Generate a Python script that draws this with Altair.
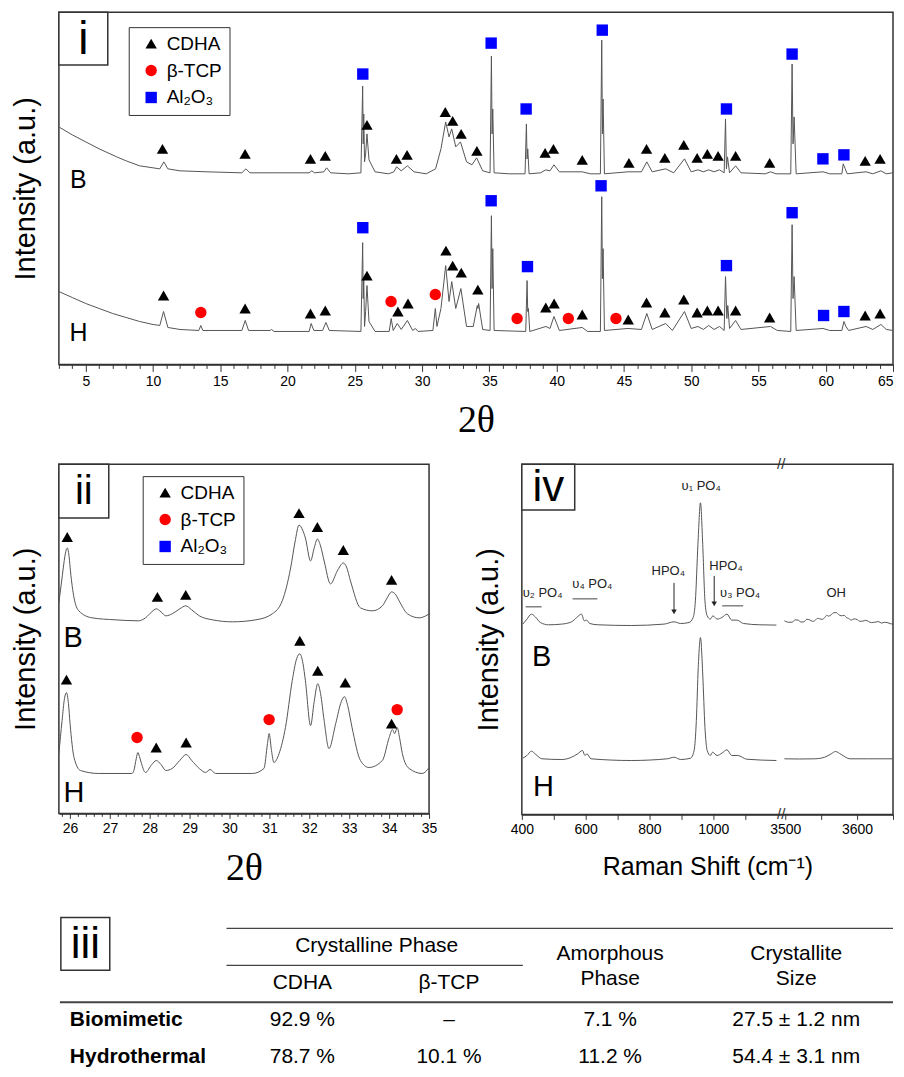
import altair as alt
import pandas as pd

FONT = "Arial"
SERIF = "Liberation Serif"
LINE_COLOR = "#555555"
FRAME = "#333333"

PHASES = ["CDHA", "β-TCP", "Al₂O₃"]
PHASE_SHAPES = ["triangle-up", "circle", "square"]
PHASE_COLORS = ["#000000", "#ff0000", "#0000ff"]

# ---------------- Panel i : XRD 3-65 deg (2theta, intensity above own baseline) ----------------
xrd_B = [(3.0, 47), (4.0, 39), (5.0, 32), (6.0, 25), (7.3, 17), (8.0, 13), (9.0, 8), (10.0, 6), (10.5, 5),
         (10.8, 12), (11.1, 5), (12.0, 3), (14.0, 2), (16.6, 1), (16.9, 5), (17.2, 1), (19.0, 1), (21.6, 1),
         (21.8, 3), (22.0, 1), (22.7, 2), (22.9, 6), (23.2, 1), (24.5, 0), (25.45, 1), (25.58, 88), (25.62, 30),
         (25.66, 60), (25.72, 12), (25.8, 20), (25.9, 40), (26.05, 14), (26.5, 2), (27.5, 0), (27.9, 2),
         (28.1, 7), (28.45, 3), (28.9, 8), (29.4, 2), (30.3, 0), (31.0, 5), (31.4, 25), (31.75, 52), (32.0, 37),
         (32.2, 45), (32.5, 27), (32.85, 32), (33.3, 12), (33.7, 9), (34.05, 16), (34.5, 3), (35.05, 1),
         (35.15, 118), (35.2, 40), (35.25, 65), (35.35, 1), (36.5, 0), (37.65, 0), (37.75, 50), (37.8, 15),
         (37.85, 25), (37.95, 0), (38.8, 1), (39.2, 4), (39.5, 3), (39.8, 9), (40.2, 2), (41.9, 2), (42.5, 0),
         (43.25, 0), (43.35, 134), (43.4, 40), (43.45, 75), (43.55, 0), (45.3, 2), (46.3, 2), (46.7, 12),
         (47.1, 2), (48.1, 5), (48.7, 1), (49.5, 15), (50.0, 2), (50.5, 4), (50.9, 2), (51.3, 4), (51.7, 2),
         (52.1, 4), (52.45, 1), (52.55, 55), (52.62, 5), (52.7, 17), (52.85, 1), (53.3, 8), (53.7, 1),
         (55.5, 0), (55.9, 2), (56.3, 0), (57.4, 0), (57.5, 110), (57.57, 30), (57.65, 57), (57.8, 0),
         (59.8, 2), (60.3, 0), (61.2, 0), (61.3, 10), (61.45, 5), (61.6, 0), (63.0, 2), (63.5, 0), (64.1, 3),
         (64.5, 0), (65.0, 1)]
xrd_H = [(3.0, 40), (4.0, 34), (5.0, 28), (6.0, 23), (7.0, 18), (8.0, 14), (9.0, 10), (10.0, 7), (10.5, 6),
         (10.78, 20), (11.1, 4), (12.0, 2), (13.4, 1), (13.55, 6), (13.7, 1), (16.6, 1), (16.85, 11), (17.1, 1),
         (18.7, 1), (18.8, 2), (19.0, 0), (21.6, 0), (21.75, 8), (21.95, 1), (22.6, 1), (22.85, 9), (23.1, 1),
         (25.45, 0), (25.58, 89), (25.62, 33), (25.66, 53), (25.72, 5), (25.8, 20), (25.9, 46), (26.05, 10),
         (26.5, 0), (27.55, 0), (27.7, 13), (27.85, 1), (28.15, 8), (28.45, 2), (28.9, 11), (29.3, 1),
         (29.5, 3), (29.7, 0), (30.8, 1), (30.98, 23), (31.1, 5), (31.4, 23), (31.75, 66), (32.0, 30),
         (32.2, 50), (32.5, 23), (32.88, 43), (33.3, 5), (33.8, 5), (34.1, 26), (34.15, 23), (34.2, 28),
         (34.5, 2), (35.05, 1), (35.15, 116), (35.2, 43), (35.25, 83), (35.35, 1), (37.7, 0), (37.8, 51),
         (37.85, 20), (37.9, 23), (38.0, 0), (39.2, 5), (39.5, 3), (39.8, 15), (40.2, 1), (41.9, 4), (42.3, 0),
         (43.25, 0), (43.35, 135), (43.4, 53), (43.45, 83), (43.55, 1), (45.3, 3), (46.3, 2), (46.7, 18),
         (47.1, 2), (48.1, 8), (48.6, 1), (49.5, 20), (50.0, 3), (50.5, 5), (50.9, 2), (51.3, 6), (51.7, 2),
         (52.1, 5), (52.45, 1), (52.55, 55), (52.65, 13), (52.72, 26), (52.85, 3), (53.3, 11), (53.7, 2),
         (55.9, 5), (56.4, 1), (57.4, 0), (57.5, 107), (57.57, 33), (57.65, 55), (57.8, 1), (59.8, 3),
         (60.3, 1), (61.2, 1), (61.35, 10), (61.5, 5), (61.7, 1), (63.0, 5), (63.5, 2), (64.1, 7), (64.5, 2),
         (65.0, 1)]
I_OFFSET = {"B": 191, "H": 33}

i_B_cdha = [(10.7, 25), (16.84, 20), (21.7, 15), (22.8, 18), (25.9, 49), (28.09, 15), (28.88, 19), (31.72, 62),
            (32.27, 53), (32.9, 40), (34.07, 23), (39.14, 21), (39.76, 25), (41.9, 14), (45.37, 11), (46.68, 25),
            (48.04, 16), (49.45, 29), (50.44, 16), (51.2, 20), (52.0, 18), (53.3, 18), (55.83, 11), (62.93, 13),
            (64.04, 15)]
i_B_al2o3 = [(25.59, 100), (35.13, 131), (37.73, 65), (43.39, 144), (52.62, 65), (57.5, 120), (59.79, 15),
             (61.35, 19)]
i_H_cdha = [(10.78, 36), (16.84, 23), (21.7, 18), (22.8, 21), (25.9, 56), (28.2, 20), (28.95, 28), (31.77, 81),
            (32.27, 66), (32.91, 59), (34.14, 42), (39.19, 24), (39.81, 28), (41.9, 17), (45.32, 12), (46.68, 29),
            (48.04, 19), (49.45, 32), (50.44, 19), (51.2, 21), (52.0, 21), (53.3, 21), (55.83, 14), (62.93, 16),
            (64.04, 18)]
i_H_tcp = [(13.55, 19), (27.69, 30), (30.98, 37), (37.06, 13), (40.87, 13), (44.41, 13)]
i_H_al2o3 = [(25.59, 104), (35.13, 131), (37.83, 65), (43.3, 146), (52.62, 66), (57.5, 119), (59.84, 16),
             (61.35, 20)]
i_labeled_ticks = [5, 10, 15, 20, 25, 30, 35, 40, 45, 50, 55, 60, 65]

# ---------------- Panel ii : XRD zoom 25.7-35 deg ----------------
zoom_B = [(25.72, 19), (25.78, 38), (25.83, 54), (25.88, 68), (25.93, 74), (25.98, 64), (26.01, 51), (26.1, 24),
          (26.22, 11), (26.55, 4), (27.13, 2), (27.72, 1), (27.89, 4), (28.05, 10), (28.16, 13), (28.28, 10),
          (28.4, 6), (28.56, 8), (28.75, 13), (28.9, 16), (29.05, 12), (29.24, 6), (29.57, 2), (30.07, 0),
          (30.66, 2), (31.07, 8), (31.32, 21), (31.53, 54), (31.64, 80), (31.74, 97), (31.83, 92), (31.9, 84),
          (32.03, 61), (32.12, 74), (32.2, 83), (32.28, 76), (32.37, 61), (32.53, 38), (32.7, 51), (32.85, 59),
          (32.93, 55), (33.03, 41), (33.28, 14), (33.58, 11), (33.83, 16), (33.95, 24), (34.06, 30), (34.15, 28),
          (34.25, 21), (34.46, 8), (34.75, 4), (34.92, 6), (35.0, 8)]
zoom_H = [(25.72, 20), (25.8, 53), (25.86, 75), (25.91, 81), (25.96, 70), (26.0, 50), (26.1, 16), (26.26, 3),
          (26.72, 0), (27.55, 0), (27.6, 3), (27.66, 15), (27.7, 21), (27.74, 17), (27.79, 10), (27.89, 1),
          (28.05, 9), (28.16, 13), (28.28, 9), (28.4, 3), (28.56, 5), (28.75, 13), (28.91, 19), (29.05, 13),
          (29.24, 5), (29.4, 1), (29.51, 4), (29.65, 0), (30.57, 0), (30.86, 5), (30.95, 30), (30.99, 40),
          (31.05, 23), (31.11, 11), (31.24, 20), (31.4, 46), (31.57, 93), (31.68, 115), (31.76, 120),
          (31.84, 110), (31.9, 93), (32.03, 48), (32.12, 72), (32.21, 90), (32.28, 80), (32.37, 53),
          (32.49, 25), (32.66, 50), (32.8, 72), (32.88, 77), (32.96, 68), (33.07, 46), (33.28, 13), (33.49, 6),
          (33.83, 13), (34.0, 36), (34.08, 44), (34.14, 40), (34.2, 46), (34.26, 36), (34.33, 20), (34.5, 5),
          (34.83, 0), (35.0, 6)]
II_OFFSET = {"B": 192, "H": 40}

ii_B_cdha = [(25.93, 85), (28.19, 25), (28.9, 27), (31.74, 109), (32.2, 95), (32.85, 72), (34.06, 42)]
ii_H_cdha = [(25.91, 94), (28.16, 26), (28.91, 31), (31.76, 133), (32.21, 103), (32.9, 91), (34.06, 50)]
ii_H_tcp = [(27.68, 36), (30.99, 54), (34.2, 64)]
ii_labeled_ticks = [26, 27, 28, 29, 30, 31, 32, 33, 34, 35]

# ---------------- Panel iv : Raman (shift cm-1, intensity above own baseline) ----------------
raman_B_low = [(403, 0.7), (416, 5.7), (430, 10.7), (442, 8), (458, 2.3), (484, 0), (525, 0.7), (556, 3),
               (572, 7.3), (587, 10.7), (596, 4), (603, 4.7), (613, 1.3), (639, 0), (743, -0.7), (846, 0.7),
               (877, 3), (898, 1.3), (924, 2.3), (937, 7.3), (944, 24), (952, 80.7), (960, 122.3), (967, 80.7),
               (974, 24), (981, 9), (991, 5.7), (999, 9), (1012, 5.7), (1027, 7.3), (1043, 10.7), (1058, 4.7),
               (1074, 4.7), (1095, 1.3), (1146, 0), (1198, -0.3)]
raman_B_high = [(3499, 4), (3505, 2.5), (3510, 2.7), (3514, 5), (3518, 4.7), (3522, 2.8), (3526, 3), (3530, 5.5),
                (3534, 5), (3538, 3.5), (3541, 4), (3545, 6.5), (3548, 6), (3552, 5.5), (3555, 7.3), (3558, 9.5),
                (3560, 8.7), (3564, 10), (3567, 12), (3571, 12.3), (3574, 10.5), (3578, 9), (3582, 9.5),
                (3585, 7.3), (3588, 6.5), (3592, 4.7), (3596, 6), (3600, 5.3), (3604, 3.5), (3608, 3.7),
                (3612, 4.5), (3616, 3.3), (3620, 2.2), (3625, 2.7), (3630, 3.2), (3634, 1.7), (3638, 2.5),
                (3643, 2), (3647, 1), (3650, 0.7)]
raman_H_low = [(403, 1.3), (416, 4), (430, 8.3), (444, 5), (463, 0.7), (525, 0), (556, 2.3), (575, 5.7), (590, 9),
               (598, 4), (604, 5.7), (617, 0.7), (743, -1), (856, 0.7), (877, 2.3), (898, 0), (929, 1.3),
               (940, 9), (947, 39), (953, 92.3), (960, 122.3), (967, 85.7), (974, 32.3), (981, 9), (991, 4),
               (998, 7.3), (1012, 4), (1027, 6.3), (1043, 9.7), (1058, 4), (1077, 4), (1105, 0.3), (1198, -1)]
raman_H_high = [(3499, 0.7), (3520, 0.5), (3541, 0.7), (3555, 2.3), (3564, 5.7), (3570, 8), (3578, 5),
                (3590, 0.7), (3616, 0.7), (3650, 0.7)]
IV_OFFSET = {"B": 190, "H": 55}
raman_labeled_ticks = [400, 600, 800, 1000, 3500, 3600]
raman_minor_ticks = [500, 700, 900, 1100, 3550, 3650]
raman_break_at = 1213

raman_texts = ["υ₂ PO₄", "υ₄ PO₄", "HPO₄", "υ₁ PO₄", "HPO₄", "υ₃ PO₄", "OH"]
raman_text_v = [465, 621, 859, 962, 1040, 1084, 3571]
raman_text_y = [222, 231, 244, 329, 249, 222, 222]
raman_bar_v1 = [412, 559, 1028]
raman_bar_v2 = [462, 637, 1094]
raman_bar_y = [208, 216, 209]
raman_arrow_v = [877, 1003]
raman_arrow_from = [232, 239]
raman_arrow_to = [203, 211]

# ---------------- Panel iii : table ----------------
table_samples = ["Biomimetic", "Hydrothermal"]
table_cdha = ["92.9 %", "78.7 %"]
table_tcp = ["–", "10.1 %"]
table_amorphous = ["7.1 %", "11.2 %"]
table_size = ["27.5 ± 1.2 nm", "54.4 ± 3.1 nm"]


# ---------------- helpers ----------------
def curve_frame(pairs, sample, offset, seg="a"):
    return pd.DataFrame({"x": [p[0] for p in pairs], "y": [p[1] + offset for p in pairs],
                         "sample": sample, "seg": seg})


def marker_frame(groups):
    rows = []
    for pairs, phase, offset in groups:
        for x, h in pairs:
            rows.append({"x": x, "y": h + offset, "phase": phase})
    return pd.DataFrame(rows)


def phase_legend(lx, ly):
    return alt.Legend(title=None, orient="none", legendX=lx, legendY=ly, direction="vertical",
                      strokeColor=FRAME, fillColor="white", padding=7, labelFont=FONT, labelFontSize=19,
                      labelColor="black", symbolSize=130, symbolOffset=6, labelOffset=6, rowPadding=7,
                      symbolStrokeWidth=0)


def marker_layer(df, xenc, yenc, legend):
    return alt.Chart(df).mark_point(filled=True, opacity=1, size=130).encode(
        x=xenc, y=yenc,
        shape=alt.Shape("phase:N", scale=alt.Scale(domain=PHASES, range=PHASE_SHAPES), legend=legend),
        color=alt.Color("phase:N", scale=alt.Scale(domain=PHASES, range=PHASE_COLORS), legend=legend),
    )


def box_label(text, w, h, size, x0=0, y0=0):
    rect = alt.Chart(alt.Data(values=[{}])).mark_rect(fill="white", stroke=FRAME, strokeWidth=1.5).encode(
        x=alt.value(x0), x2=alt.value(x0 + w), y=alt.value(y0), y2=alt.value(y0 + h))
    txt = alt.Chart(alt.Data(values=[{}])).mark_text(text=text, font=FONT, fontSize=size, color="black",
                                                    align="center", baseline="middle").encode(
        x=alt.value(x0 + w / 2), y=alt.value(y0 + h / 2 + 1))
    return alt.layer(rect, txt)


def y_enc(top):
    return alt.Y("y:Q", scale=alt.Scale(domain=[0, top], nice=False, zero=False),
                 axis=alt.Axis(title="Intensity (a.u.)", titleFont=FONT, titleFontSize=29,
                               titleFontWeight="normal", titleColor="black", titlePadding=18,
                               labels=False, ticks=False, domain=False, grid=False))


def in_list_expr(values):
    return "indexof([" + ",".join(str(v) for v in values) + "], datum.value) >= 0"


# ---------------- Panel i ----------------
i_test = in_list_expr(i_labeled_ticks)
x_i = alt.X("x:Q", scale=alt.Scale(domain=[3, 65], nice=False, zero=False),
            axis=alt.Axis(title="2θ", titleFont=SERIF, titleFontSize=38, titleFontWeight="normal",
                          titleColor="black", titlePadding=13, values=list(range(3, 66)),
                          labelExpr=f"{i_test} ? datum.label : ''",
                          tickSize={"condition": {"test": i_test, "value": 7}, "value": 4},
                          labelFontSize=14, labelPadding=3, labelFlush=True, labelOverlap=False,
                          grid=False))
y_i = y_enc(353)

lines_i = alt.Chart(pd.concat([curve_frame(xrd_B, "B", I_OFFSET["B"]),
                               curve_frame(xrd_H, "H", I_OFFSET["H"])])).mark_line(
    color=LINE_COLOR, strokeWidth=1).encode(x=x_i, y=y_i, detail="sample:N")
marks_i = marker_layer(marker_frame([(i_B_cdha, "CDHA", I_OFFSET["B"]), (i_B_al2o3, "Al₂O₃", I_OFFSET["B"]),
                                     (i_H_cdha, "CDHA", I_OFFSET["H"]), (i_H_tcp, "β-TCP", I_OFFSET["H"]),
                                     (i_H_al2o3, "Al₂O₃", I_OFFSET["H"])]),
                       x_i, y_i, phase_legend(70, 15))
names_i = alt.Chart(pd.DataFrame({"x": [4.45, 4.45], "y": [185, 31], "t": ["B", "H"]})).mark_text(
    font=FONT, fontSize=25, color="black").encode(x=x_i, y=y_i, text="t:N")
panel_i = alt.layer(lines_i, marks_i, names_i, box_label("i", 49, 53, 46)).properties(width=836, height=353)

# ---------------- Panel ii ----------------
ii_test = in_list_expr(ii_labeled_ticks)
ii_ticks = [round(25.8 + 0.2 * k, 1) for k in range(47)]
x_ii = alt.X("x:Q", scale=alt.Scale(domain=[25.72, 35], nice=False, zero=False),
             axis=alt.Axis(title="2θ", titleFont=SERIF, titleFontSize=38, titleFontWeight="normal",
                           titleColor="black", titlePadding=14, values=ii_ticks,
                           labelExpr=f"{ii_test} ? format(datum.value, 'd') : ''",
                           tickSize={"condition": {"test": ii_test, "value": 5}, "value": 3},
                           labelFontSize=14, labelPadding=3, labelFlush=False, labelOverlap=False,
                           grid=False))
y_ii = y_enc(350)
lines_ii = alt.Chart(pd.concat([curve_frame(zoom_B, "B", II_OFFSET["B"]),
                                curve_frame(zoom_H, "H", II_OFFSET["H"])])).mark_line(
    color=LINE_COLOR, strokeWidth=1, interpolate="monotone").encode(x=x_ii, y=y_ii, detail="sample:N")
marks_ii = marker_layer(marker_frame([(ii_B_cdha, "CDHA", II_OFFSET["B"]), (ii_H_cdha, "CDHA", II_OFFSET["H"]),
                                      (ii_H_tcp, "β-TCP", II_OFFSET["H"])]),
                        x_ii, y_ii, phase_legend(84, 12))
names_ii = alt.Chart(pd.DataFrame({"x": [26.08, 26.1], "y": [176, 20], "t": ["B", "H"]})).mark_text(
    font=FONT, fontSize=29, color="black").encode(x=x_ii, y=y_ii, text="t:N")
panel_ii = alt.layer(lines_ii, marks_ii, names_ii, box_label("ii", 50, 54, 40)).properties(width=371, height=350)

# ---------------- Panel iv ----------------
BREAK_START, SCALE_HIGH = 1225.4, 2.254


def disp(v):
    return v if v < 2000 else BREAK_START + (v - 3500) * SCALE_HIGH


DISP_EXPR = f"datum.x < 2000 ? datum.x : {BREAK_START} + (datum.x - 3500) * {SCALE_HIGH}"
raman_values = sorted(disp(v) for v in raman_labeled_ticks + raman_minor_ticks)
lab_expr = "''"
for v in reversed(raman_labeled_ticks):
    lab_expr = f"abs(datum.value - {disp(v)}) < 0.01 ? '{v}' : ({lab_expr})"
x_iv = alt.X("xd:Q", scale=alt.Scale(domain=[400, disp(3650)], nice=False, zero=False),
             axis=alt.Axis(title="Raman Shift (cm⁻¹)", titleFont=FONT, titleFontSize=25,
                           titleFontWeight="normal", titleColor="black", titlePadding=18,
                           values=raman_values, labelExpr=lab_expr, tickSize=5,
                           labelFontSize=14, labelPadding=3, labelFlush=False, labelOverlap=False,
                           grid=False))
y_iv = y_enc(351)
raman_df = pd.concat([curve_frame(raman_B_low, "B", IV_OFFSET["B"], "low"),
                      curve_frame(raman_B_high, "B", IV_OFFSET["B"], "high"),
                      curve_frame(raman_H_low, "H", IV_OFFSET["H"], "low"),
                      curve_frame(raman_H_high, "H", IV_OFFSET["H"], "high")])
lines_iv = alt.Chart(raman_df).transform_calculate(xd=DISP_EXPR).mark_line(
    color=LINE_COLOR, strokeWidth=1, interpolate="monotone").encode(
    x=x_iv, y=y_iv, detail=["sample:N", "seg:N"])
ann_iv = alt.Chart(pd.DataFrame({"x": raman_text_v, "y": raman_text_y, "t": raman_texts})).transform_calculate(
    xd=DISP_EXPR).mark_text(font=FONT, fontSize=13, color="#222222").encode(x=x_iv, y=y_iv, text="t:N")
bars_iv = alt.Chart(pd.DataFrame({"x": raman_bar_v1, "x2": raman_bar_v2, "y": raman_bar_y})).transform_calculate(
    xd=DISP_EXPR, xd2=DISP_EXPR.replace("datum.x", "datum.x2")).mark_rule(color="#444444", strokeWidth=1).encode(
    x=x_iv, x2="xd2:Q", y=y_iv)
arrows_iv = alt.Chart(pd.DataFrame({"x": raman_arrow_v, "y": raman_arrow_from, "y2": raman_arrow_to})
                      ).transform_calculate(xd=DISP_EXPR).mark_rule(color="#222222", strokeWidth=1).encode(
    x=x_iv, y=y_iv, y2="y2:Q")
heads_iv = alt.Chart(pd.DataFrame({"x": raman_arrow_v, "y": raman_arrow_to})).transform_calculate(
    xd=DISP_EXPR).mark_point(shape="triangle-down", filled=True, color="#222222", size=30, opacity=1).encode(
    x=x_iv, y=y_iv)
names_iv = alt.Chart(pd.DataFrame({"x": [462, 468], "y": [158, 27], "t": ["B", "H"]})).transform_calculate(
    xd=DISP_EXPR).mark_text(font=FONT, fontSize=29, color="black").encode(x=x_iv, y=y_iv, text="t:N")
break_df = pd.DataFrame({"x": [raman_break_at]})
break_top = alt.Chart(break_df).transform_calculate(xd=DISP_EXPR).mark_text(
    text="//", font=FONT, fontSize=15, color=FRAME).encode(x=x_iv, y=alt.value(0))
break_bottom = alt.Chart(break_df).transform_calculate(xd=DISP_EXPR).mark_text(
    text="//", font=FONT, fontSize=15, color=FRAME).encode(x=x_iv, y=alt.value(351))
panel_iv = alt.layer(lines_iv, bars_iv, arrows_iv, heads_iv, ann_iv, names_iv, break_top, break_bottom,
                     box_label("iv", 53, 46, 44)).properties(width=372, height=351)

# ---------------- Panel iii : table (layout positions in page pixels) ----------------
TABLE_X0, TABLE_Y0 = 58, 904.7
COL_X = {"label": 69, "CDHA": 302, "β-TCP": 449, "group": 376.5, "Amorphous": 610.5, "Crystallite": 797}
ROW_Y = {"group": 946, "head1": 954, "head2": 979, "sub": 983, "r0": 1020, "r1": 1057}


def cell(text, col, row, bold=False, align="center"):
    return alt.Chart(alt.Data(values=[{}])).mark_text(
        text=text, font=FONT, fontSize=21, color="black", fontWeight="bold" if bold else "normal",
        align=align, baseline="middle").encode(x=alt.value(COL_X[col] - TABLE_X0),
                                               y=alt.value(ROW_Y[row] - TABLE_Y0))


def hrule(x1, x2, y, w):
    return alt.Chart(alt.Data(values=[{}])).mark_rule(color="#444444", strokeWidth=w).encode(
        x=alt.value(x1 - TABLE_X0), x2=alt.value(x2 - TABLE_X0), y=alt.value(y - TABLE_Y0))


table_layers = [hrule(226, 894, 928, 1.3), hrule(226, 523, 965, 1.3), hrule(59, 894, 1002, 2.2),
                cell("Crystalline Phase", "group", "group"), cell("CDHA", "CDHA", "sub"),
                cell("β-TCP", "β-TCP", "sub"), cell("Amorphous", "Amorphous", "head1"),
                cell("Phase", "Amorphous", "head2"), cell("Crystallite", "Crystallite", "head1"),
                cell("Size", "Crystallite", "head2")]
for i, row in enumerate(["r0", "r1"]):
    table_layers += [cell(table_samples[i], "label", row, bold=True, align="left"),
                     cell(table_cdha[i], "CDHA", row), cell(table_tcp[i], "β-TCP", row),
                     cell(table_amorphous[i], "Amorphous", row), cell(table_size[i], "Crystallite", row)]
table_layers.append(box_label("iii", 49, 53, 44, x0=60 - TABLE_X0, y0=917 - TABLE_Y0))
table = alt.layer(*table_layers).properties(width=836, height=160,
                                            view=alt.ViewBackground(stroke="transparent"))

# ---------------- assemble ----------------
row2 = alt.hconcat(panel_ii, panel_iv, spacing=93, bounds="flush").resolve_scale(
    x="independent", y="independent", color="independent", shape="independent")
chart = alt.vconcat(panel_i, row2, table, spacing=16).resolve_scale(
    x="independent", y="independent", color="independent", shape="independent").resolve_legend(
    color="independent", shape="independent").properties(
    padding={"left": 3, "top": 1, "right": 0, "bottom": 0}, background="white"
).configure_view(stroke=FRAME, strokeWidth=1.5).configure_axis(
    domainColor=FRAME, domainWidth=1.5, tickColor=FRAME, tickWidth=1, labelFont=FONT, labelColor="black"
)

chart.save("out.html", embed_options={"renderer": "svg", "actions": False})
